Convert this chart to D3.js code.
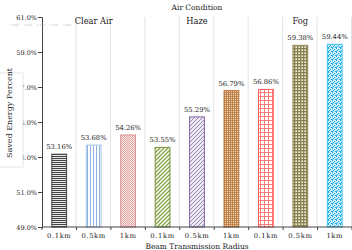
<!DOCTYPE html>
<html>
<head>
<meta charset="utf-8">
<script src="https://cdn.jsdelivr.net/npm/d3@7"></script>
<style>
  body { margin: 0; background: #fff; }
  svg text { font-family: "DejaVu Serif", serif; fill: #222; }
</style>
</head>
<body>
<svg id="chart"></svg>
<script>
// data
const radius = ["0.1km", "0.5km", "1km", "0.1km", "0.5km", "1km", "0.1km", "0.5km", "1km"];
const saved = [53.16, 53.68, 54.26, 53.55, 55.29, 56.79, 56.86, 59.38, 59.44];
const groups = ["Clear Air", "Haze", "Fog"];
const groupCenter = [1, 4, 7]; // which bar the group label sits over
const yTicks = [49, 51, 53, 55, 57, 59, 61];
const tinyLabels = ["0.000", "0.000", "0.000", "0.000", "0.000"];

const width = 352, height = 250;
const margin = { left: 42, right: 0, top: 17, bottom: 23 };

const svg = d3.select("#chart").attr("width", width).attr("height", height);
const defs = svg.append("defs");

// fill patterns, one per bar
function pattern(id, w, h, bg, draw) {
    const p = defs.append("pattern").attr("id", id)
        .attr("patternUnits", "userSpaceOnUse").attr("width", w).attr("height", h);
    p.append("rect").attr("width", w).attr("height", h).attr("fill", bg);
    draw(p);
}
pattern("p0", 4, 2, "#e8e8e8", p => p.append("rect").attr("width", 4).attr("height", 1).attr("fill", "#444"));
pattern("p1", 3, 4, "#fff", p => p.append("rect").attr("width", 1).attr("height", 4).attr("fill", "#8db3e2"));
pattern("p2", 2, 2, "#f7e4e4", p => {
    p.append("rect").attr("width", 1).attr("height", 1).attr("fill", "#e2a9a8");
    p.append("rect").attr("x", 1).attr("y", 1).attr("width", 1).attr("height", 1).attr("fill", "#e2a9a8");
});
pattern("p3", 4, 4, "#fff", p => p.append("path").attr("d", "M-1,1 L1,-1 M0,4 L4,0 M3,5 L5,3")
    .attr("stroke", "#86a547").attr("stroke-width", 1.3));
pattern("p4", 4, 4, "#ece8f2", p => p.append("path").attr("d", "M-1,1 L1,-1 M0,4 L4,0 M3,5 L5,3")
    .attr("stroke", "#9481b4").attr("stroke-width", 0.9));
pattern("p5", 2, 2, "#f0d2b5", p => {
    p.append("rect").attr("width", 2).attr("height", 0.8).attr("fill", "#b8753a");
    p.append("rect").attr("width", 0.8).attr("height", 2).attr("fill", "#b8753a");
});
pattern("p6", 4, 4, "#fff", p => {
    p.append("rect").attr("width", 4).attr("height", 1).attr("fill", "#ff7a7a");
    p.append("rect").attr("width", 1).attr("height", 4).attr("fill", "#ff7a7a");
});
pattern("p7", 3, 3, "#ecebd9", p => {
    p.append("rect").attr("width", 3).attr("height", 1.3).attr("fill", "#8a8150");
    p.append("rect").attr("width", 1.3).attr("height", 3).attr("fill", "#8a8150");
});
pattern("p8", 4, 4, "#bfeafb", p => {
    [[0, 0], [2, 1], [1, 2], [3, 3], [0, 3]].forEach(([x, y]) =>
        p.append("rect").attr("x", x).attr("y", y).attr("width", 1).attr("height", 1).attr("fill", "#18a7e6"));
    [[3, 0], [1, 1]].forEach(([x, y]) =>
        p.append("rect").attr("x", x).attr("y", y).attr("width", 1).attr("height", 1).attr("fill", "#fff"));
});
const strokes = ["#404040", "#a9c4e8", "#d99694", "#77933c", "#8064a2", "#b8753a", "#ff5a5a", "#948a54", "#3cc0f0"];

const x = d3.scaleBand()
    .domain(d3.range(saved.length))
    .range([margin.left, width - margin.right])
    .paddingInner(0.57).paddingOuter(0.285);
const step = x.step();
const y = d3.scaleLinear()
    .domain([49, 61])
    .range([height - margin.bottom, margin.top]);

// vertical grid at category boundaries
svg.append("g").selectAll("line")
    .data(d3.range(1, saved.length + 1))
    .enter().append("line")
    .attr("x1", d => margin.left + d * step - 0.5).attr("x2", d => margin.left + d * step - 0.5)
    .attr("y1", y(61)).attr("y2", y(49))
    .attr("stroke", "#e2e2e2");

// bars
svg.append("g").selectAll("rect")
    .data(saved)
    .enter().append("rect")
    .attr("x", (d, i) => x(i))
    .attr("y", d => y(d))
    .attr("width", x.bandwidth())
    .attr("height", d => y(49) - y(d))
    .attr("fill", (d, i) => `url(#p${i})`)
    .attr("stroke", (d, i) => strokes[i])
    .attr("stroke-width", 1);

// value labels
svg.append("g").selectAll("text")
    .data(saved)
    .enter().append("text")
    .attr("x", (d, i) => x(i) + x.bandwidth() / 2)
    .attr("y", d => y(d) - 5)
    .attr("text-anchor", "middle")
    .style("font-size", "6.8px")
    .text(d => d.toFixed(2) + "%");

// y axis
const yAxis = svg.append("g")
    .attr("transform", `translate(${margin.left},0)`)
    .call(d3.axisLeft(y).tickValues(yTicks).tickSize(4).tickFormat(d => d.toFixed(1) + "%"));
yAxis.attr("font-family", null).attr("font-size", null);
yAxis.select(".domain").attr("stroke", "#444");
yAxis.selectAll(".tick line").attr("stroke", "#444");
yAxis.selectAll(".tick text").style("font-size", "6.5px").attr("x", -5).attr("fill", "#333");

// x axis
const xAxis = svg.append("g")
    .attr("transform", `translate(0,${y(49)})`);
xAxis.append("line").attr("x1", margin.left).attr("x2", width).attr("stroke", "#444");
xAxis.selectAll(".tk")
    .data(d3.range(0, saved.length + 1))
    .enter().append("line")
    .attr("x1", d => margin.left + d * step).attr("x2", d => margin.left + d * step)
    .attr("y1", 0).attr("y2", 3).attr("stroke", "#444");
xAxis.selectAll("text")
    .data(radius)
    .enter().append("text")
    .attr("x", (d, i) => x(i) + x.bandwidth() / 2)
    .attr("y", 11)
    .attr("text-anchor", "middle")
    .style("font-size", "6.8px")
    .style("letter-spacing", "0.6px")
    .text(d => d);

// tiny faint labels near the top-left
svg.append("g").selectAll("text")
    .data(tinyLabels)
    .enter().append("text")
    .attr("x", (d, i) => 15 + i * 13)
    .attr("y", 26)
    .attr("text-anchor", "middle")
    .style("font-size", "2.8px")
    .style("fill", "#aaa")
    .text(d => d);

// box behind y label (covers part of the tick labels)
svg.append("rect")
    .attr("x", -1).attr("y", 73).attr("width", 24).attr("height", 94)
    .attr("fill", "#fff").attr("stroke", "#e4e4e4");

svg.append("text")
    .attr("transform", `translate(12,${113}) rotate(-90)`)
    .attr("text-anchor", "middle")
    .style("font-size", "8px")
    .text("Saved Energy Percent");

// titles
svg.append("text")
    .attr("x", (margin.left + width) / 2).attr("y", 10)
    .attr("text-anchor", "middle")
    .style("font-size", "7.5px")
    .text("Air Condition");

svg.append("g").selectAll("text")
    .data(groups)
    .enter().append("text")
    .attr("x", (d, i) => x(groupCenter[i]) + x.bandwidth() / 2)
    .attr("y", 24)
    .attr("text-anchor", "middle")
    .style("font-size", "8.3px")
    .text(d => d);

svg.append("text")
    .attr("x", (margin.left + width) / 2).attr("y", 248.5)
    .attr("text-anchor", "middle")
    .style("font-size", "7.5px")
    .text("Beam Transmission Radius");
</script>
</body>
</html>
